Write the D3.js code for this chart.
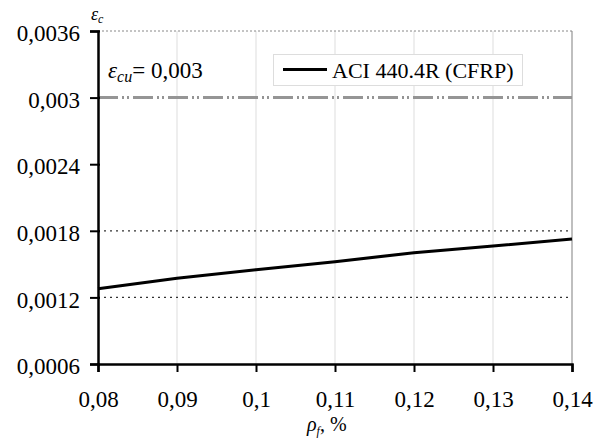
<!DOCTYPE html>
<html><head><meta charset="utf-8">
<script src="https://cdn.jsdelivr.net/npm/d3@7"></script>
<style>body{margin:0;background:#fff}svg{display:block}</style>
</head><body><svg id="c" width="604" height="439"></svg>
<script>
const xValues = [0.08, 0.09, 0.10, 0.11, 0.12, 0.13, 0.14];
const aciValues = [0.001278, 0.001372, 0.001450, 0.001522, 0.001603, 0.001663, 0.001726];
const xTicks = [0.08, 0.09, 0.10, 0.11, 0.12, 0.13, 0.14];
const yTicks = [0.0006, 0.0012, 0.0018, 0.0024, 0.003, 0.0036];
const dottedLines = [0.0012, 0.0018];
const ecuValue = 0.003;
const seriesName = "ACI 440.4R (CFRP)";

const FONT = "'Liberation Serif'";
const svg = d3.select("#c");
const L = 98, R = 572, T = 31, B = 364;
const x = d3.scaleLinear().domain([0.08, 0.14]).range([L, R]);
const y = d3.scaleLinear().domain([0.0006, 0.0036]).range([B, T]);
const fmt = v => String(+v.toFixed(4)).replace(".", ",");

// vertical grid
svg.append("g").selectAll("line").data(xTicks.slice(1)).join("line")
  .attr("x1", d => x(d)).attr("x2", d => x(d)).attr("y1", T).attr("y2", B)
  .attr("stroke", d => d === 0.14 ? "#aaa" : "#ddd").attr("stroke-width", d => d === 0.14 ? 1.5 : 1);
// top dotted
svg.append("line").attr("x1", L).attr("x2", R).attr("y1", y(0.0036)).attr("y2", y(0.0036))
  .attr("stroke", "#888").attr("stroke-dasharray", "2,2");
// dotted lines
svg.append("g").selectAll("line").data(dottedLines).join("line")
  .attr("x1", L).attr("x2", R).attr("y1", d => y(d)).attr("y2", d => y(d))
  .attr("stroke", "#333").attr("stroke-width", 1.2).attr("stroke-dasharray", "2,4");
// ecu dash-dot
svg.append("line").attr("x1", L).attr("x2", R).attr("y1", y(ecuValue)).attr("y2", y(ecuValue))
  .attr("stroke", "#959595").attr("stroke-width", 3).attr("stroke-dasharray", "20,4,2,3,2,4");

// series
svg.append("path").datum(xValues.map((v, i) => [v, aciValues[i]]))
  .attr("fill", "none").attr("stroke", "#000").attr("stroke-width", 3)
  .attr("d", d3.line().x(d => x(d[0])).y(d => y(d[1])));

// axes
const yAxis = svg.append("g").attr("transform", `translate(${L},0)`)
  .call(d3.axisLeft(y).tickValues(yTicks).tickFormat(fmt).tickSizeOuter(0).tickSize(8).tickPadding(10));
const xAxis = svg.append("g").attr("transform", `translate(0,${B})`)
  .call(d3.axisBottom(x).tickValues(xTicks).tickFormat(fmt).tickSizeOuter(0).tickSize(8).tickPadding(19));
[yAxis, xAxis].forEach(a => {
  a.attr("font-family", null).attr("font-size", null);
  a.select(".domain").attr("stroke", "#000").attr("stroke-width", 2.5);
  a.selectAll(".tick line").attr("stroke", "#000").attr("stroke-width", 2);
  a.selectAll("text").attr("fill", "#000").style("font-family", FONT).style("font-size", "23px");
});
yAxis.selectAll(".tick line").attr("x2", -8).attr("x1", 2);
yAxis.selectAll("text").attr("dy", "0.42em");

// labels
const yl = svg.append("text").attr("x", 91).attr("y", 20).style("font-family", FONT).style("font-size", "18px").style("font-style", "italic");
yl.append("tspan").text("ε");
yl.append("tspan").style("font-size", "12px").attr("dy", 3).text("c");

const el = svg.append("text").attr("x", 108).attr("y", 78).style("font-family", FONT).style("font-size", "23px");
el.append("tspan").style("font-style", "italic").text("ε");
el.append("tspan").style("font-style", "italic").style("font-size", "16px").attr("dy", 4).text("cu");
el.append("tspan").attr("dy", -4).text("= 0,003");

const xl = svg.append("text").attr("x", 307).attr("y", 431).style("font-family", FONT).style("font-size", "20px");
xl.append("tspan").style("font-style", "italic").text("ρ");
xl.append("tspan").style("font-style", "italic").style("font-size", "12px").attr("dy", 4).text("f");
xl.append("tspan").attr("dy", -4).text(", %");

// legend
svg.append("rect").attr("x", 273.5).attr("y", 54.5).attr("width", 249).attr("height", 31)
  .attr("fill", "#fff").attr("stroke", "#ddd");
svg.append("line").attr("x1", 283).attr("x2", 327).attr("y1", 69.5).attr("y2", 69.5)
  .attr("stroke", "#000").attr("stroke-width", 3);
svg.append("text").attr("x", 332).attr("y", 78).style("font-family", FONT).style("font-size", "22px").text(seriesName);
</script></body></html>
